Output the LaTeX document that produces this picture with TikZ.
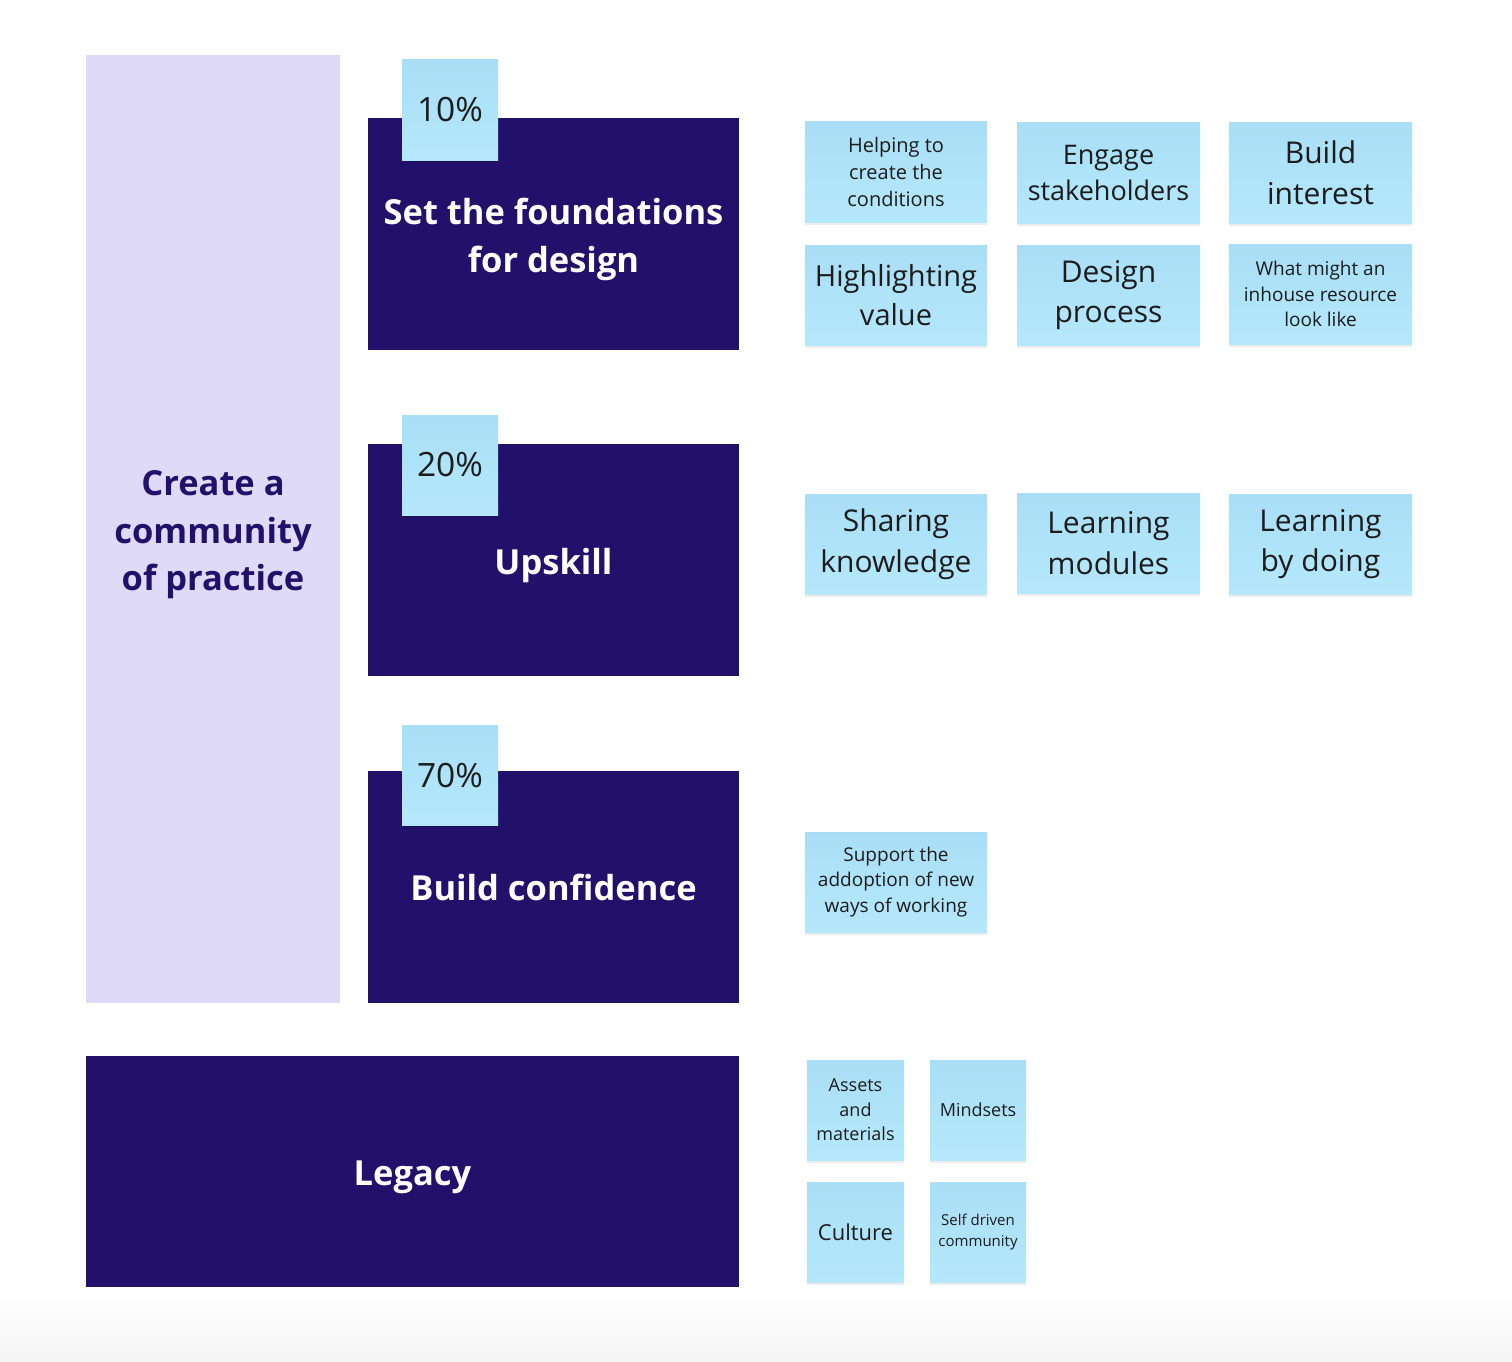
\documentclass[tikz,border=0pt]{standalone}
\usepackage{fontspec}
\setmainfont{Open Sans}
\usetikzlibrary{shadows}
\definecolor{navy}{HTML}{21116B}
\definecolor{lav}{HTML}{DEDAF8}
\definecolor{stickytop}{HTML}{A9DEF6}
\definecolor{stickybot}{HTML}{B5E8FB}
\definecolor{ink}{HTML}{1C1C1C}
\newcommand{\fs}[1]{\fontsize{#1}{1.36\dimexpr#1pt\relax}\selectfont}
\tikzset{
  bigbox/.style={fill=navy, draw=none, inner sep=0pt},
  bigtext/.style={text=white, align=center, inner sep=0pt,
    font=\bfseries\fontsize{34.5}{48}\selectfont},
  sticky/.style={draw=none, top color=stickytop, bottom color=stickybot, inner sep=2pt,
    text=ink, align=center,
    drop shadow={shadow xshift=0pt, shadow yshift=-3pt, opacity=0.07, fill=black}},
  tab/.style={sticky, minimum width=96pt, minimum height=100pt, font=\fontsize{33.5}{40}\selectfont},
}
\begin{document}
\begin{tikzpicture}[x=1pt,y=-1pt]
\useasboundingbox (0,0) rectangle (1512,1362);
\fill[white] (0,0) rectangle (1512,1362);
\shade[top color=white, bottom color=black!4, draw=none] (0,1290) rectangle (1512,1362);

% left column
\node[fill=lav, minimum width=254pt, minimum height=948pt, inner sep=0pt] (cop) at (213,529) {};
\node[text=navy, align=center, inner sep=0pt, font=\bfseries\fontsize{34.5}{47.5}\selectfont]
  (copt) at (213,535) {Create a\\community\\of practice};

% main boxes
\node[bigbox, minimum width=371pt, minimum height=232pt] (found) at (553.5,234) {};
\node[bigbox, minimum width=371pt, minimum height=232pt] (up) at (553.5,560) {};
\node[bigbox, minimum width=371pt, minimum height=232pt] (conf) at (553.5,887) {};
\node[bigbox, minimum width=653pt, minimum height=231pt] (leg) at (412.5,1171.5) {};
\node[bigtext] (foundt) at (553.5,239) {Set the foundations\\for design};
\node[bigtext] (upt) at (553.5,566) {Upskill};
\node[bigtext] (conft) at (553.5,887) {Build confidence};
\node[bigtext] (legt) at (412.5,1177) {Legacy};

% tabs
\node[tab] (t1) at (450,110) {10\%};
\node[tab] (t2) at (450,465) {20\%};
\node[tab] (t3) at (450,775.5) {70\%};

% stickies row 1
\node[sticky, minimum width=182pt, minimum height=100pt, font=\fs{20}] (s11) at (896,172) {Helping to\\create the\\conditions};
\node[sticky, minimum width=183pt, minimum height=100pt, font=\fs{27}] (s12) at (1108.5,173) {Engage\\stakeholders};
\node[sticky, minimum width=183pt, minimum height=100pt, font=\fs{30}] (s13) at (1320.5,173) {Build\\interest};
% row 2
\node[sticky, minimum width=182pt, minimum height=100pt, font=\fs{29}] (s21) at (896,295) {Highlighting\\value};
\node[sticky, minimum width=183pt, minimum height=100pt, font=\fs{30}] (s22) at (1108.5,295) {Design\\process};
\node[sticky, minimum width=183pt, minimum height=100pt, font=\fs{19}] (s23) at (1320.5,294) {What might an\\inhouse resource\\look like};
% row 3
\node[sticky, minimum width=182pt, minimum height=100pt, font=\fs{30}] (s31) at (896,544) {Sharing\\knowledge};
\node[sticky, minimum width=183pt, minimum height=100pt, font=\fs{30}] (s32) at (1108.5,543) {Learning\\modules};
\node[sticky, minimum width=183pt, minimum height=100pt, font=\fs{30}] (s33) at (1320.5,544) {Learning\\by doing};
% row 4
\node[sticky, minimum width=182pt, minimum height=100pt, font=\fs{19}] (s41) at (896,882) {Support the\\addoption of new\\ways of working};
% legacy stickies
\node[sticky, minimum width=97pt, minimum height=100pt, font=\fs{18}] (l1) at (855.5,1110) {Assets\\and\\materials};
\node[sticky, minimum width=96pt, minimum height=100pt, font=\fs{18}] (l2) at (978,1110) {Mindsets};
\node[sticky, minimum width=97pt, minimum height=100pt, font=\fs{22}] (l3) at (855.5,1232) {Culture};
\node[sticky, minimum width=96pt, minimum height=100pt, font=\fs{15}] (l4) at (978,1232) {Self driven\\community};
\end{tikzpicture}
\end{document}
